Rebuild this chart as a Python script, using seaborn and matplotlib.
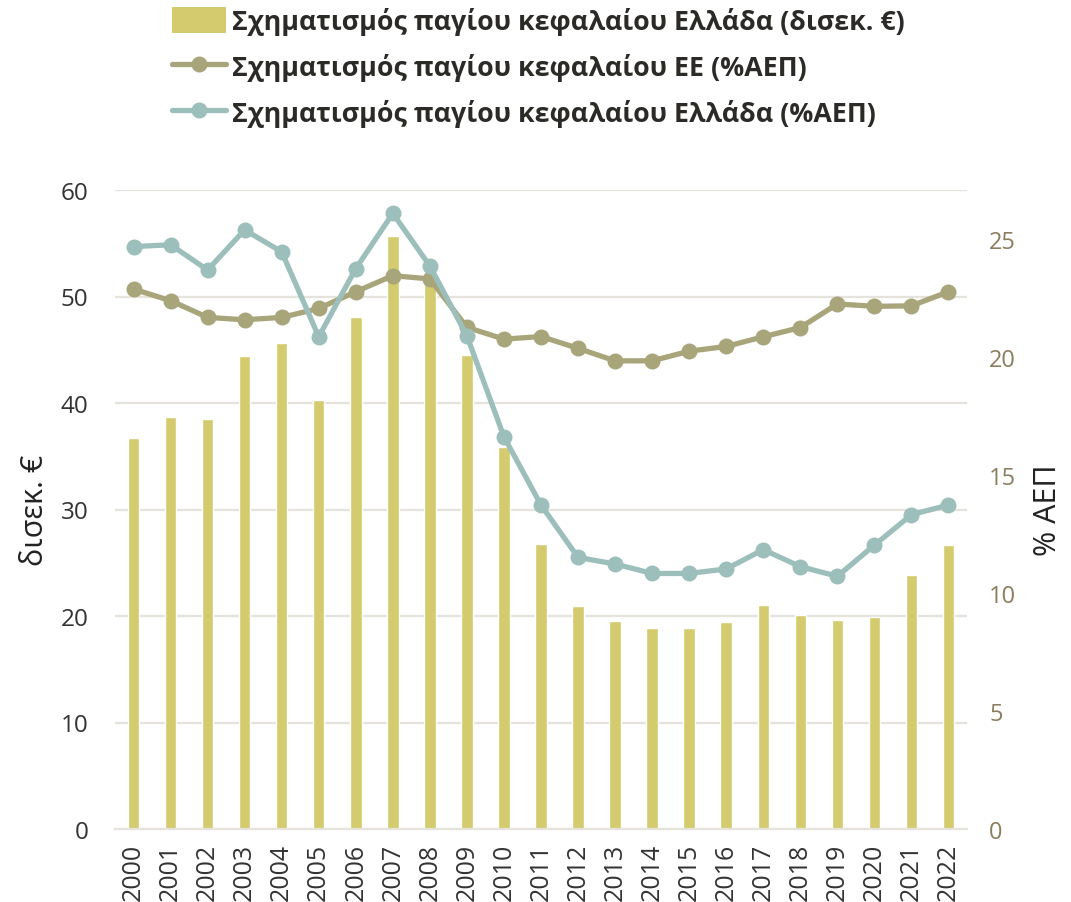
import numpy as np
import pandas as pd
import matplotlib
matplotlib.use("Agg")
import matplotlib.pyplot as plt
from matplotlib.lines import Line2D
from matplotlib.patches import Patch
import seaborn as sns

years = [str(y) for y in range(2000, 2023)]
gfcf_greece_bn = [36.7, 38.7, 38.5, 44.4, 45.6, 40.3, 48.1, 55.7, 51.3, 44.5, 35.9, 26.8,
                  20.9, 19.5, 18.9, 18.9, 19.4, 21.0, 20.1, 19.65, 19.9, 23.85, 26.7]
gfcf_eu_pct = [22.88, 22.39, 21.68, 21.58, 21.68, 22.06, 22.77, 23.45, 23.31, 21.26, 20.76, 20.87,
               20.37, 19.84, 19.84, 20.25, 20.45, 20.86, 21.25, 22.25, 22.15, 22.17, 22.77]
gfcf_greece_pct = [24.68, 24.76, 23.69, 25.39, 24.46, 20.86, 23.75, 26.09, 23.86, 20.9, 16.62, 13.73,
                   11.51, 11.23, 10.83, 10.83, 11.02, 11.84, 11.12, 10.71, 12.03, 13.32, 13.73]

lbl_bar = "Σχηματισμός παγίου κεφαλαίου Ελλάδα (δισεκ. €)"
lbl_eu = "Σχηματισμός παγίου κεφαλαίου ΕΕ (%ΑΕΠ)"
lbl_gr = "Σχηματισμός παγίου κεφαλαίου Ελλάδα (%ΑΕΠ)"

bar_col = "#D3CB6D"
eu_col = "#A9A57A"
gr_col = "#9CBFBC"
grid_col = "#E6E2DC"

sns.set_theme(style="white")
plt.rcParams["font.family"] = ["Open Sans", "DejaVu Sans"]

df = pd.DataFrame({"year": years, "bn": gfcf_greece_bn,
                   "eu": gfcf_eu_pct, "gr": gfcf_greece_pct})
df["pos"] = np.arange(len(years))

fig = plt.figure(figsize=(10.71, 9.03), dpi=100)
ax = fig.add_axes([115 / 1071, 1 - 830 / 903, (967 - 115) / 1071, (830 - 191) / 903])

sns.barplot(data=df, x="year", y="bn", color=bar_col, width=0.31, saturation=1, ax=ax, zorder=2)
ax.set_ylim(0, 60)
ax.set_xlim(-0.5, len(years) - 0.5)
ax.set_yticks(range(0, 61, 10))
ax.yaxis.grid(True, color=grid_col, linewidth=1.6, zorder=0)
ax.set_axisbelow(True)
for s in ["top", "right", "left"]:
    ax.spines[s].set_visible(False)
ax.spines["bottom"].set_color(grid_col)
ax.spines["bottom"].set_linewidth(1.6)
ax.tick_params(axis="y", labelsize=17.5, colors="#333333", length=0, pad=19)
ax.tick_params(axis="x", labelsize=18, colors="#333333", length=0, rotation=90, pad=10)
ax.set_xlabel("")
ax.set_ylabel("δισεκ. €", fontsize=22, color="#222222", labelpad=8)

ax2 = ax.twinx()
sns.lineplot(data=df, x="pos", y="eu", color=eu_col, linewidth=3.8, marker="o",
             markersize=11.5, markeredgewidth=0, ax=ax2, zorder=3)
sns.lineplot(data=df, x="pos", y="gr", color=gr_col, linewidth=3.8, marker="o",
             markersize=11.5, markeredgewidth=0, ax=ax2, zorder=4)
ax2.set_ylim(0, 27.08)
ax2.set_yticks(range(0, 26, 5))
ax2.grid(False)
for s in ax2.spines.values():
    s.set_visible(False)
ax2.tick_params(axis="y", labelsize=17, colors="#8B7D5E", length=0, pad=16)
ax2.set_ylabel("% ΑΕΠ", fontsize=22, color="#222222", labelpad=12)
ax2.set_xlabel("")
ax2.set_xlim(-0.5, len(years) - 0.5)

handles = [
    Patch(facecolor=bar_col, edgecolor="none"),
    Line2D([], [], color=eu_col, linewidth=3.8, marker="o", markersize=11.5, markeredgewidth=0),
    Line2D([], [], color=gr_col, linewidth=3.8, marker="o", markersize=11.5, markeredgewidth=0),
]
fig.legend(handles, [lbl_bar, lbl_eu, lbl_gr], loc="upper left",
           bbox_to_anchor=(148 / 1071, 1.018), frameon=False,
           prop={"size": 19.3, "weight": "bold"}, labelcolor="#2B2A26",
           handlelength=2.0, handleheight=1.1, handletextpad=0.25, labelspacing=0.68)

fig.savefig("out.png", dpi=100)
